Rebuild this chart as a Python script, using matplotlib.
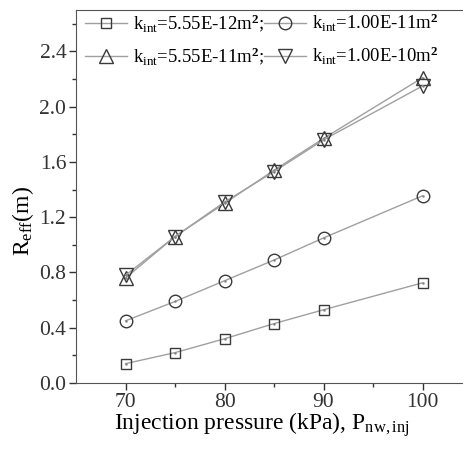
import matplotlib
matplotlib.use("Agg")
import matplotlib.pyplot as plt

plt.rcParams['font.family'] = ['Liberation Serif', 'DejaVu Serif']
plt.rcParams['mathtext.fontset'] = 'custom'
plt.rcParams['mathtext.rm'] = 'Liberation Serif'
plt.rcParams['mathtext.it'] = 'Liberation Serif:italic'
plt.rcParams['mathtext.bf'] = 'Liberation Serif:bold'

pressure = [70, 75, 80, 85, 90, 100]
r_k1 = [0.14, 0.22, 0.32, 0.43, 0.53, 0.725]
r_k2 = [0.45, 0.59, 0.74, 0.89, 1.05, 1.355]
r_k3 = [0.76, 1.06, 1.30, 1.54, 1.77, 2.21]
r_k4 = [0.78, 1.06, 1.31, 1.53, 1.76, 2.15]

labels = [r'k$_{\mathrm{int}}$=5.55E-12m$^{\mathbf{2}}$;',
          r'k$_{\mathrm{int}}$=1.00E-11m$^{\mathbf{2}}$',
          r'k$_{\mathrm{int}}$=5.55E-11m$^{\mathbf{2}}$;',
          r'k$_{\mathrm{int}}$=1.00E-10m$^{\mathbf{2}}$']
markers = ['s', 'o', '^', 'v']
sizes = [7.5, 9, 10, 10]

fig = plt.figure(figsize=(4.64, 4.5), dpi=100)
ax = fig.add_axes([76 / 464, 1 - 383 / 450, (472 - 76) / 464, (383 - 10) / 450])

handles = []
for ys, m, ms, lab in zip([r_k1, r_k2, r_k3, r_k4], markers, sizes, labels):
    h, = ax.plot(pressure, ys, color='#a0a0a0', lw=1.0, marker=m, ms=ms,
                 mfc='none', mec='#3a3a3a', mew=1.0, label=lab)
    ax.plot(pressure, ys, ls='none', marker='.', ms=1.5, color='#808080')
    handles.append(h)

ax.set_xlim(65, 105)
ax.set_ylim(0, 2.7)
ax.set_xticks([70, 80, 90, 100])
ax.set_xticks([75, 85, 95], minor=True)
ax.set_yticks([0.0, 0.4, 0.8, 1.2, 1.6, 2.0, 2.4])
ax.set_yticks([0.2, 0.6, 1.0, 1.4, 1.8, 2.2, 2.6], minor=True)
ax.set_yticklabels(['0.0', '0.4', '0.8', '1.2', '1.6', '2.0', '2.4'])
ax.tick_params(which='major', direction='out', length=5, width=1, labelsize=15.5,
               colors='#333333', pad=2)
ax.tick_params(which='minor', direction='out', length=3, width=1, colors='#333333')
for s in ax.spines.values():
    s.set_color('#555555')

ax.set_xlabel(r'Injection pressure (kPa), P$_{\mathrm{nw,inj}}$', fontsize=17, labelpad=-1)
ax.xaxis.label.set_x(0.47)
ax.set_ylabel(r'R$_{\mathrm{eff}}$(m)', fontsize=17)
ax.yaxis.set_label_coords(-0.102, 0.435)

order = [0, 2, 1, 3]
ax.legend(handles=[handles[i] for i in order], labels=[labels[i] for i in order],
          ncol=2, loc='upper left', frameon=False, fontsize=13.5,
          bbox_to_anchor=(-0.005, 1.025), handlelength=2.2, handletextpad=0.35,
          columnspacing=0.0, labelspacing=0.6, borderaxespad=0.2)

fig.savefig('out.png', dpi=100)
